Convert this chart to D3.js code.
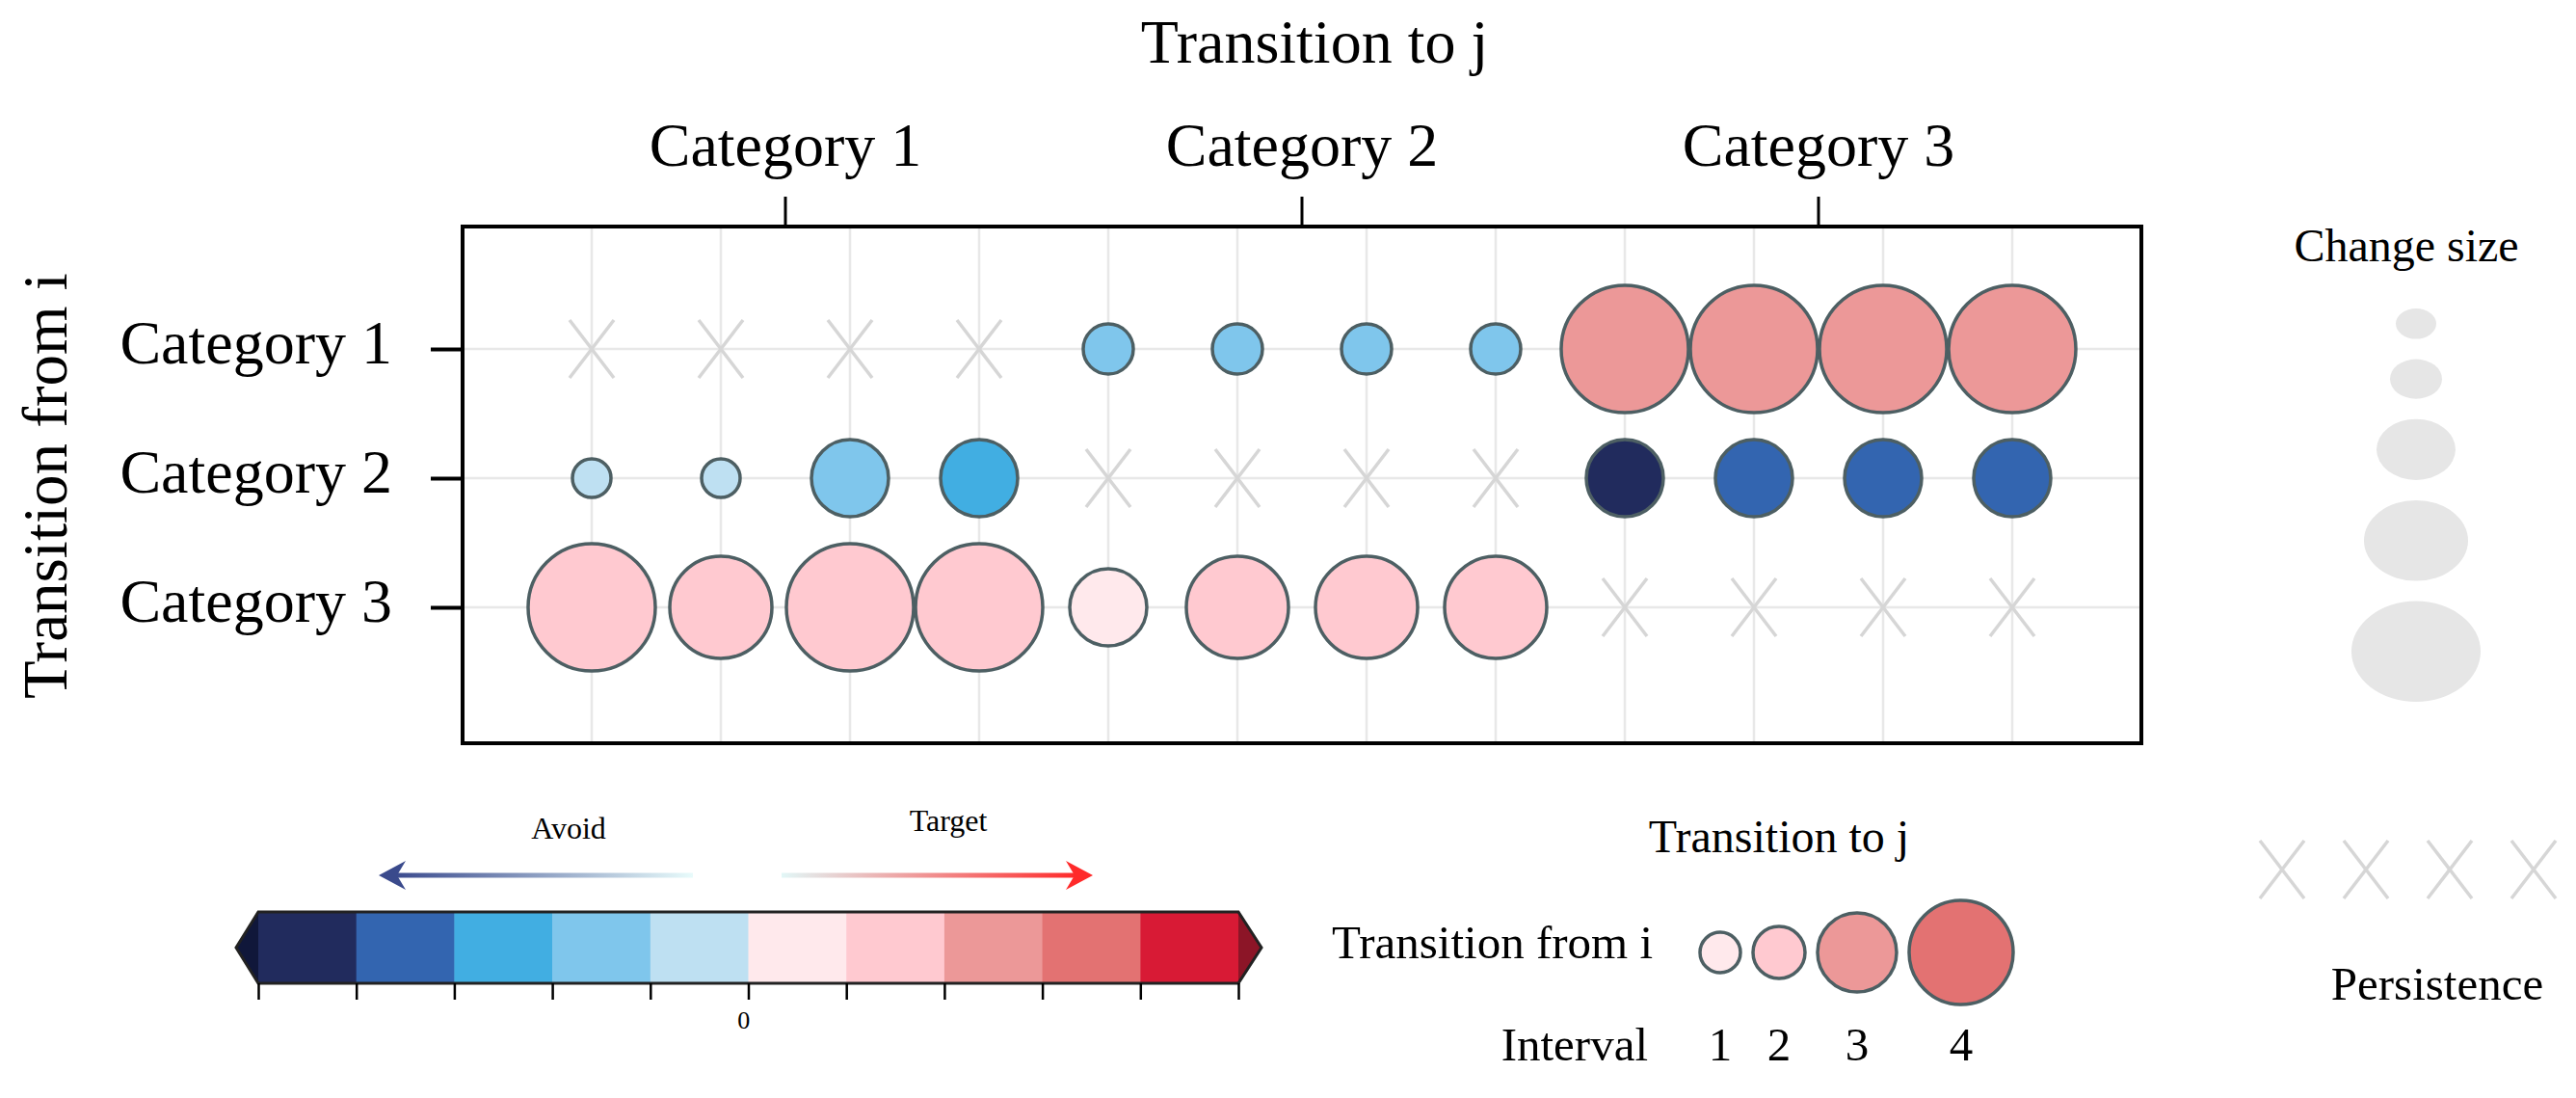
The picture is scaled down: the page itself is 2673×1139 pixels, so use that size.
<!DOCTYPE html>
<html>
<head>
<meta charset="utf-8">
<script src="https://cdn.jsdelivr.net/npm/d3@7"></script>
<style>
  body { margin: 0; background: #fff; }
  text { font-family: "Liberation Serif", "Times New Roman", serif; fill: #000; }
</style>
</head>
<body>
<div id="chart"></div>
<script>
// data
var fromCats = ["Category 1", "Category 2", "Category 3"];
var toCats = ["Category 1", "Category 2", "Category 3"];
var intervals = [1, 2, 3, 4];

// size class (1-5) and change value per column, null = persistence
var sizeCat1 = [null, null, null, null, 2, 2, 2, 2, 5, 5, 5, 5];
var changeCat1 = [null, null, null, null, -1.5, -1.5, -1.5, -1.5, 2.5, 2.5, 2.5, 2.5];
var sizeCat2 = [1, 1, 3, 3, null, null, null, null, 3, 3, 3, 3];
var changeCat2 = [-0.5, -0.5, -1.5, -2.5, null, null, null, null, -4.5, -3.5, -3.5, -3.5];
var sizeCat3 = [5, 4, 5, 5, 3, 4, 4, 4, null, null, null, null];
var changeCat3 = [1.5, 1.5, 1.5, 1.5, 0.5, 1.5, 1.5, 1.5, null, null, null, null];

var sizeClasses = [1, 2, 3, 4, 5];
var colorBreaks = [-4, -3, -2, -1, 0, 1, 2, 3, 4];
var colorTicks = [-5, -4, -3, -2, -1, 0, 1, 2, 3, 4, 5];
var legendIntervals = [1, 2, 3, 4];
var legendChange = [0.5, 1.5, 2.5, 3.5];

var W = 2673, H = 1139;
var svg = d3.select("#chart").append("svg")
    .attr("width", W).attr("height", H)
    .style("background", "#fff");

// plot frame
var pLeft = 480, pRight = 2222, pTop = 235, pBottom = 771;

var colKeys = [];
toCats.forEach(function(c) { intervals.forEach(function(k) { colKeys.push(c + "|" + k); }); });

var x = d3.scalePoint().domain(colKeys).range([pLeft, pRight]).padding(1);
// rows sit a little above the frame centre
var y = d3.scalePoint().domain(fromCats).range([pTop - 7, pBottom - 7]).padding(1);
var step = x.step();
var xGroup = d3.scaleBand().domain(toCats)
    .range([x(colKeys[0]) - step / 2, x(colKeys[colKeys.length - 1]) + step / 2]);

var rScale = d3.scaleOrdinal().domain(sizeClasses).range([20, 26, 40, 53, 66]);
var colors = ["#212b5d", "#3365b0", "#41aee2", "#7fc6ec", "#bee0f2",
              "#ffe9ec", "#ffc9d0", "#ec9898", "#e37272", "#d81a35"];
var color = d3.scaleThreshold().domain(colorBreaks).range(colors);

var rows = [
  {cat: fromCats[0], size: sizeCat1, change: changeCat1},
  {cat: fromCats[1], size: sizeCat2, change: changeCat2},
  {cat: fromCats[2], size: sizeCat3, change: changeCat3}
];
var cells = [];
rows.forEach(function(r) {
  colKeys.forEach(function(k, i) {
    cells.push({row: r.cat, col: k, size: r.size[i], change: r.change[i]});
  });
});

// grid
var grid = svg.append("g");
grid.selectAll("line.v").data(colKeys).enter().append("line")
    .attr("x1", function(d) { return x(d); }).attr("x2", function(d) { return x(d); })
    .attr("y1", pTop).attr("y2", pBottom)
    .style("stroke", "#e8e8e8").style("stroke-width", 2.5);
grid.selectAll("line.h").data(fromCats).enter().append("line")
    .attr("y1", function(d) { return y(d); }).attr("y2", function(d) { return y(d); })
    .attr("x1", pLeft).attr("x2", pRight)
    .style("stroke", "#e8e8e8").style("stroke-width", 2.5);

// persistence crosses
function cross(g, hw, hh) {
  g.append("line").attr("x1", -hw).attr("y1", -hh).attr("x2", hw).attr("y2", hh);
  g.append("line").attr("x1", -hw).attr("y1", hh).attr("x2", hw).attr("y2", -hh);
  g.selectAll("line").style("stroke", "#d6d6d6").style("stroke-width", 3.5);
}
svg.append("g").selectAll("g")
    .data(cells.filter(function(d) { return d.size === null; }))
    .enter().append("g")
    .attr("transform", function(d) { return "translate(" + x(d.col) + "," + y(d.row) + ")"; })
    .each(function() { cross(d3.select(this), 23, 30); });

// change circles
svg.append("g").selectAll("circle")
    .data(cells.filter(function(d) { return d.size !== null; }))
    .enter().append("circle")
    .attr("cx", function(d) { return x(d.col); })
    .attr("cy", function(d) { return y(d.row); })
    .attr("r", function(d) { return rScale(d.size); })
    .style("fill", function(d) { return color(d.change); })
    .style("stroke", "#4d5f63").style("stroke-width", 3.5);

// frame
svg.append("rect").attr("x", pLeft).attr("y", pTop)
    .attr("width", pRight - pLeft).attr("height", pBottom - pTop)
    .style("fill", "none").style("stroke", "#000").style("stroke-width", 4);

// axes
var topAxis = svg.append("g").attr("transform", "translate(0," + pTop + ")")
    .call(d3.axisTop(xGroup).tickSize(31).tickPadding(32));
topAxis.select(".domain").remove();
topAxis.selectAll("line").style("stroke", "#000").style("stroke-width", 3);
topAxis.selectAll("text").style("font-size", "64px").style("font-family", "Liberation Serif");

var leftAxis = svg.append("g").attr("transform", "translate(" + pLeft + ",0)")
    .call(d3.axisLeft(y).tickSize(33).tickPadding(40));
leftAxis.select(".domain").remove();
leftAxis.selectAll("line").style("stroke", "#000").style("stroke-width", 4);
leftAxis.selectAll("text").attr("dy", "0.22em")
    .style("font-size", "64px").style("font-family", "Liberation Serif");

// titles
svg.append("text").attr("x", 1364).attr("y", 65).attr("text-anchor", "middle")
    .style("font-size", "64px").text("Transition to j");
svg.append("text").attr("transform", "translate(69,504) rotate(-90)")
    .attr("text-anchor", "middle").style("font-size", "65px").text("Transition from i");

// change size legend
svg.append("text").attr("x", 2497).attr("y", 271).attr("text-anchor", "middle")
    .style("font-size", "48px").text("Change size");
var ey = 320, ellipses = [];
sizeClasses.forEach(function(s) {
  var ry = rScale(s) * 0.79;
  ellipses.push({s: s, cy: ey + ry, ry: ry});
  ey += 2 * ry + 21;
});
svg.append("g").selectAll("ellipse").data(ellipses).enter().append("ellipse")
    .attr("cx", 2507).attr("cy", function(d) { return d.cy; })
    .attr("rx", function(d) { return rScale(d.s) + 1; }).attr("ry", function(d) { return d.ry; })
    .style("fill", "#e6e6e6");

// persistence legend
var xPers = d3.scalePoint().domain(legendIntervals).range([2368, 2629]);
svg.append("g").selectAll("g").data(legendIntervals).enter().append("g")
    .attr("transform", function(d) { return "translate(" + xPers(d) + ",902)"; })
    .each(function() { cross(d3.select(this), 23, 30); });
svg.append("text").attr("x", 2529).attr("y", 1037).attr("text-anchor", "middle")
    .style("font-size", "49px").text("Persistence");

// interval legend
svg.append("text").attr("x", 1846).attr("y", 884).attr("text-anchor", "middle")
    .style("font-size", "48px").text("Transition to j");
svg.append("text").attr("x", 1715).attr("y", 994).attr("text-anchor", "end")
    .style("font-size", "49px").text("Transition from i");
svg.append("text").attr("x", 1710).attr("y", 1100).attr("text-anchor", "end")
    .style("font-size", "49px").text("Interval");
var lx = 1764, legCircles = [];
legendIntervals.forEach(function(k, i) {
  var r = rScale(k) + 1;
  legCircles.push({k: k, cx: lx + r, r: r, change: legendChange[i]});
  lx += 2 * r + 13;
});
var legG = svg.append("g");
legG.selectAll("circle").data(legCircles).enter().append("circle")
    .attr("cx", function(d) { return d.cx; }).attr("cy", 988)
    .attr("r", function(d) { return d.r; })
    .style("fill", function(d) { return color(d.change); })
    .style("stroke", "#4d5f63").style("stroke-width", 3.5);
legG.selectAll("text").data(legCircles).enter().append("text")
    .attr("x", function(d) { return d.cx; }).attr("y", 1100)
    .attr("text-anchor", "middle").style("font-size", "49px")
    .text(function(d) { return d.k; });

// colorbar
var cb = d3.scaleLinear().domain([-5, 5]).range([268, 1285]);
var cbTop = 946, cbBot = 1020, cbMid = (cbTop + cbBot) / 2;
var bins = colorTicks.slice(0, -1);
var cbG = svg.append("g");
cbG.selectAll("rect").data(bins).enter().append("rect")
    .attr("x", function(d) { return cb(d); }).attr("y", cbTop)
    .attr("width", function(d) { return cb(d + 1) - cb(d) + 0.5; })
    .attr("height", cbBot - cbTop)
    .style("fill", function(d) { return color(d + 0.5); });
cbG.append("path")
    .attr("d", "M" + cb(-5) + "," + cbTop + "L" + (cb(-5) - 23) + "," + cbMid + "L" + cb(-5) + "," + cbBot + "Z")
    .style("fill", "#10173a");
cbG.append("path")
    .attr("d", "M" + cb(5) + "," + cbTop + "L" + (cb(5) + 24) + "," + cbMid + "L" + cb(5) + "," + cbBot + "Z")
    .style("fill", "#8c1527");
cbG.append("path")
    .attr("d", "M" + cb(-5) + "," + cbTop + "L" + cb(5) + "," + cbTop + "L" + (cb(5) + 24) + "," + cbMid +
               "L" + cb(5) + "," + cbBot + "L" + cb(-5) + "," + cbBot + "L" + (cb(-5) - 23) + "," + cbMid + "Z")
    .style("fill", "none").style("stroke", "#222").style("stroke-width", 3);

var cbAxis = svg.append("g").attr("transform", "translate(0," + cbBot + ")")
    .call(d3.axisBottom(cb).tickValues(colorTicks).tickSize(17).tickPadding(12)
      .tickFormat(function(d) { return d === 0 ? "0" : ""; }));
cbAxis.select(".domain").remove();
cbAxis.selectAll("line").style("stroke", "#000").style("stroke-width", 2.5);
cbAxis.selectAll("text").attr("dx", "-0.2em")
    .style("font-size", "26px").style("font-family", "Liberation Serif");

// avoid / target arrows
var defs = svg.append("defs");
var gA = defs.append("linearGradient").attr("id", "gAvoid").attr("gradientUnits", "userSpaceOnUse")
    .attr("x1", 719).attr("x2", 400).attr("y1", 0).attr("y2", 0);
gA.append("stop").attr("offset", 0).attr("stop-color", "#e8fbfb");
gA.append("stop").attr("offset", 1).attr("stop-color", "#35458a");
var gT = defs.append("linearGradient").attr("id", "gTarget").attr("gradientUnits", "userSpaceOnUse")
    .attr("x1", 811).attr("x2", 1125).attr("y1", 0).attr("y2", 0);
gT.append("stop").attr("offset", 0).attr("stop-color", "#e2f7f7");
gT.append("stop").attr("offset", 1).attr("stop-color", "#ff2525");

svg.append("line").attr("x1", 719).attr("x2", 405).attr("y1", 908).attr("y2", 908)
    .style("stroke", "url(#gAvoid)").style("stroke-width", 5);
svg.append("path").attr("d", "M393,908L421,893L412,908L421,923Z").style("fill", "#3a4a8c");
svg.append("line").attr("x1", 811).attr("x2", 1122).attr("y1", 908).attr("y2", 908)
    .style("stroke", "url(#gTarget)").style("stroke-width", 5);
svg.append("path").attr("d", "M1134,908L1106,893L1115,908L1106,923Z").style("fill", "#ff2a2a");

svg.append("text").attr("x", 590).attr("y", 870).attr("text-anchor", "middle")
    .style("font-size", "32px").text("Avoid");
svg.append("text").attr("x", 984).attr("y", 862).attr("text-anchor", "middle")
    .style("font-size", "32px").text("Target");
</script>
</body>
</html>
